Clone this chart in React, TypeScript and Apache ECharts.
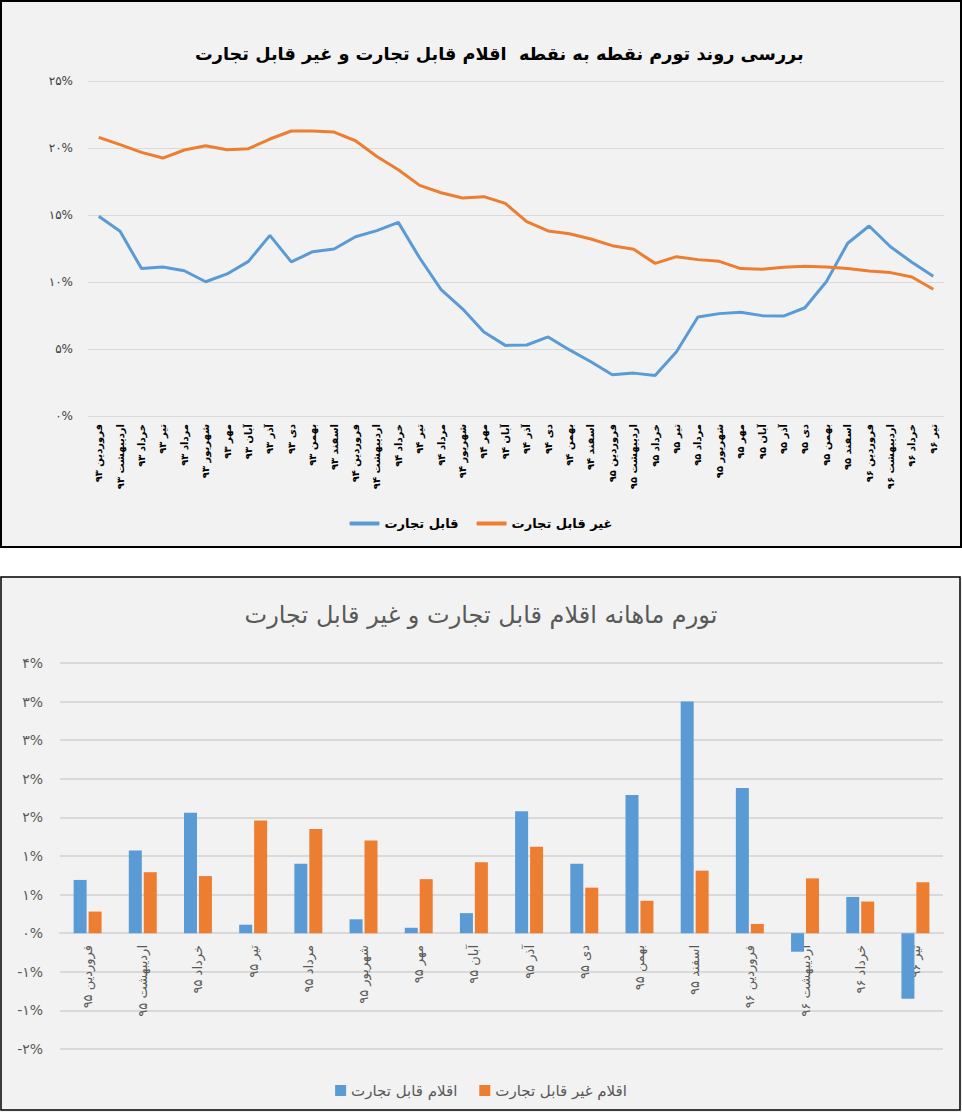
import React, { useEffect, useRef } from "react";
import * as echarts from "echarts";

// ---------- Top chart data (point-to-point inflation) ----------
const lineCategories = [
  "فروردین ۹۳", "اردیبهشت ۹۳", "خرداد ۹۳", "تیر ۹۳", "مرداد ۹۳", "شهریور ۹۳",
  "مهر ۹۳", "آبان ۹۳", "آذر ۹۳", "دی ۹۳", "بهمن ۹۳", "اسفند ۹۳",
  "فروردین ۹۴", "اردیبهشت ۹۴", "خرداد ۹۴", "تیر ۹۴", "مرداد ۹۴", "شهریور ۹۴",
  "مهر ۹۴", "آبان ۹۴", "آذر ۹۴", "دی ۹۴", "بهمن ۹۴", "اسفند ۹۴",
  "فروردین ۹۵", "اردیبهشت ۹۵", "خرداد ۹۵", "تیر ۹۵", "مرداد ۹۵", "شهریور ۹۵",
  "مهر ۹۵", "آبان ۹۵", "آذر ۹۵", "دی ۹۵", "بهمن ۹۵", "اسفند ۹۵",
  "فروردین ۹۶", "اردیبهشت ۹۶", "خرداد ۹۶", "تیر ۹۶",
];
const tradableLine = [
  14.9, 13.78, 11.0, 11.12, 10.84, 10.02, 10.6, 11.54, 13.48, 11.5,
  12.26, 12.46, 13.38, 13.83, 14.45, 11.79, 9.43, 8.0, 6.27, 5.27,
  5.3, 5.9, 4.93, 4.05, 3.08, 3.2, 3.03, 4.8, 7.39, 7.64,
  7.74, 7.49, 7.46, 8.08, 10.02, 12.89, 14.18, 12.63, 11.47, 10.43,
];
const nonTradableLine = [
  20.79, 20.25, 19.67, 19.25, 19.85, 20.17, 19.87, 19.95, 20.67, 21.27,
  21.27, 21.19, 20.54, 19.37, 18.38, 17.21, 16.66, 16.27, 16.37, 15.87,
  14.5, 13.81, 13.6, 13.21, 12.71, 12.44, 11.39, 11.89, 11.67, 11.54,
  11.0, 10.95, 11.1, 11.17, 11.12, 11.0, 10.82, 10.7, 10.37, 9.46,
];
const lineYTickLabels = ["۰%", "۵%", "۱۰%", "۱۵%", "۲۰%", "۲۵%"];
const lineTitle = "بررسی روند تورم نقطه به نقطه  اقلام قابل تجارت و غیر قابل تجارت";
const lineSeriesNames = ["قابل تجارت", "غیر قابل تجارت"];

// ---------- Bottom chart data (monthly inflation) ----------
const barCategories = [
  "فروردین ۹۵", "اردیبهشت ۹۵", "خرداد ۹۵", "تیر ۹۵", "مرداد ۹۵", "شهریور ۹۵",
  "مهر ۹۵", "آبان ۹۵", "آذر ۹۵", "دی ۹۵", "بهمن ۹۵", "اسفند ۹۵",
  "فروردین ۹۶", "اردیبهشت ۹۶", "خرداد ۹۶", "تیر ۹۶",
];
const tradableBar = [
  0.69, 1.07, 1.56, 0.11, 0.9, 0.18, 0.07, 0.26, 1.58, 0.9, 1.79, 3.0, 1.88, -0.24, 0.47, -0.85,
];
const nonTradableBar = [
  0.28, 0.79, 0.74, 1.46, 1.35, 1.2, 0.7, 0.92, 1.12, 0.59, 0.42, 0.81, 0.12, 0.71, 0.41, 0.66,
];
const barYTickLabels = ["-۲%", "-۱%", "-۱%", "۰%", "۱%", "۱%", "۲%", "۲%", "۳%", "۳%", "۴%"];
const barTitle = "تورم ماهانه اقلام قابل تجارت و غیر قابل تجارت";
const barSeriesNames = ["اقلام قابل تجارت", "اقلام غیر قابل تجارت"];

const BLUE = "#5b9bd5";
const ORANGE = "#ed7d31";
const FONT = "DejaVu Sans";

export default function App() {
  const topRef = useRef<HTMLDivElement>(null);
  const bottomRef = useRef<HTMLDivElement>(null);

  useEffect(() => {
    document.body.style.margin = "0";
    const top = echarts.init(topRef.current!, null, { renderer: "svg" });
    const bottom = echarts.init(bottomRef.current!, null, { renderer: "svg" });

    top.setOption({
      animation: false,
      backgroundColor: "#f2f2f2",
      textStyle: { fontFamily: FONT },
      title: {
        text: lineTitle,
        left: 190,
        top: 40,
        padding: 5,
        textStyle: { fontFamily: FONT, fontSize: 17.7, fontWeight: "bold", color: "#000" },
      },
      graphic: [
        {
          type: "rect",
          shape: { x: 1, y: 1, width: 960, height: 546 },
          style: { fill: "none", stroke: "#000", lineWidth: 2 },
          silent: true,
        },
      ],
      legend: {
        bottom: 13,
        left: "center",
        itemGap: 18,
        itemWidth: 30,
        itemHeight: 4,
        icon: "roundRect",
        textStyle: { fontFamily: FONT, fontSize: 13, fontWeight: "bold", color: "#000" },
        data: lineSeriesNames,
      },
      grid: { left: 88, right: 18, top: 81, bottom: 132, outerBoundsMode: "none", containLabel: false },
      xAxis: {
        type: "category",
        data: lineCategories,
        boundaryGap: true,
        axisLine: { lineStyle: { color: "#d9d9d9", width: 1 } },
        axisTick: { show: false },
        axisLabel: {
          interval: 0,
          rotate: 90,
          margin: 8,
          fontFamily: FONT,
          fontSize: 10,
          fontWeight: "bold",
          color: "#000",
        },
      },
      yAxis: {
        type: "value",
        min: 0,
        max: 25,
        interval: 5,
        axisLine: { show: false },
        axisTick: { show: false },
        splitLine: { lineStyle: { color: "#d9d9d9", width: 1 } },
        axisLabel: {
          margin: 15,
          fontFamily: FONT,
          fontSize: 12,
          color: "#404040",
          formatter: (v: number) => lineYTickLabels[Math.round(v / 5)] ?? "",
        },
      },
      series: [
        {
          name: lineSeriesNames[0],
          type: "line",
          data: tradableLine,
          showSymbol: false,
          symbol: "none",
          lineStyle: { color: BLUE, width: 3 },
          itemStyle: { color: BLUE },
        },
        {
          name: lineSeriesNames[1],
          type: "line",
          data: nonTradableLine,
          showSymbol: false,
          symbol: "none",
          lineStyle: { color: ORANGE, width: 3 },
          itemStyle: { color: ORANGE },
        },
      ],
    });

    bottom.setOption({
      animation: false,
      backgroundColor: "#f2f2f2",
      textStyle: { fontFamily: FONT },
      title: {
        text: barTitle,
        left: "center",
        top: 22,
        textStyle: { fontFamily: FONT, fontSize: 24, fontWeight: "normal", color: "#595959" },
      },
      graphic: [
        {
          type: "rect",
          shape: { x: 1, y: 1, width: 959, height: 533 },
          style: { fill: "none", stroke: "#000", lineWidth: 1.5 },
          silent: true,
        },
      ],
      legend: {
        top: 502,
        left: "center",
        itemGap: 22,
        itemWidth: 11,
        itemHeight: 11,
        icon: "rect",
        textStyle: { fontFamily: FONT, fontSize: 15, color: "#595959" },
        data: barSeriesNames,
      },
      grid: { left: 60, right: 19, top: 87, bottom: 63, outerBoundsMode: "none", containLabel: false },
      xAxis: {
        type: "category",
        data: barCategories,
        offset: -116,
        axisLine: { onZero: false, lineStyle: { color: "#d9d9d9", width: 2 } },
        axisTick: { show: false },
        axisLabel: {
          interval: 0,
          rotate: 90,
          margin: 12,
          fontFamily: FONT,
          fontSize: 13,
          color: "#595959",
        },
      },
      yAxis: {
        type: "value",
        min: -1.5,
        max: 3.5,
        interval: 0.5,
        axisLine: { show: false },
        axisTick: { show: false },
        splitLine: { lineStyle: { color: "#d9d9d9", width: 2 } },
        axisLabel: {
          margin: 17,
          fontFamily: FONT,
          fontSize: 14,
          color: "#595959",
          formatter: (v: number) => barYTickLabels[Math.round((v + 1.5) / 0.5)] ?? "",
        },
      },
      series: [
        {
          name: barSeriesNames[0],
          type: "bar",
          data: tradableBar,
          barWidth: 13,
          barGap: "15%",
          itemStyle: { color: BLUE },
        },
        {
          name: barSeriesNames[1],
          type: "bar",
          data: nonTradableBar,
          barWidth: 13,
          barGap: "15%",
          itemStyle: { color: ORANGE },
        },
      ],
    });

    return () => {
      top.dispose();
      bottom.dispose();
    };
  }, []);

  return (
    <div style={{ position: "relative", width: 962, height: 1112, background: "#fff" }}>
      <div ref={topRef} style={{ position: "absolute", left: 0, top: 0, width: 962, height: 548 }} />
      <div ref={bottomRef} style={{ position: "absolute", left: 0, top: 576, width: 962, height: 536 }} />
    </div>
  );
}
